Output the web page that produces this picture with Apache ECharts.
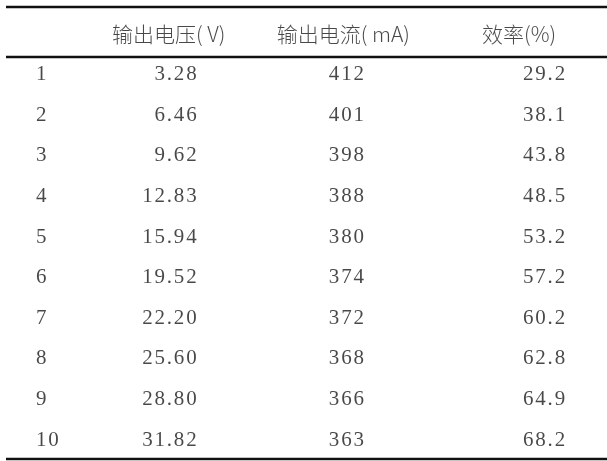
<!DOCTYPE html>
<html>
<head>
<meta charset="utf-8">
<script src="https://cdn.jsdelivr.net/npm/echarts@6/dist/echarts.min.js"></script>
<style>html,body{margin:0;background:#fff}#main{width:607px;height:461px}</style>
</head>
<body>
<div id="main"></div>
<script>
// 表格数据
const columns = ['序号', '输出电压(V)', '输出电流(mA)', '效率(%)']
const rowIds = ['1', '2', '3', '4', '5', '6', '7', '8', '9', '10']
const voltage = ['3.28', '6.46', '9.62', '12.83', '15.94', '19.52', '22.20', '25.60', '28.80', '31.82']
const current = ['412', '401', '398', '388', '380', '374', '372', '368', '366', '363']
const efficiency = ['29.2', '38.1', '43.8', '48.5', '53.2', '57.2', '60.2', '62.8', '64.9', '68.2']
const headers = ['', '输出电压( V)', '输出电流( mA)', '效率(%)']

const rowCats = ['h'].concat(rowIds)
const font = '"Liberation Serif", "Noto Sans CJK SC", serif'

let chart = echarts.init(document.getElementById('main'))

// 每一列一个散点序列, 只显示标签
const colSeries = (vals, col, align, offsetX) => ({
  type: 'scatter',
  symbolSize: 0,
  data: vals.map((v, i) => [col, i + 1, v]),
  label: {
    show: true,
    position: 'inside',
    formatter: p => p.value[2].split('').join('\u200a'),
    align: align,
    offset: [offsetX, 0],
    fontFamily: font,
    fontSize: 21,
    color: '#1a1a1a'
  }
})

let headerSeries = {
  type: 'scatter',
  symbolSize: 0,
  data: headers.map((v, i) => [i, 0, v]).filter(d => d[2]),
  label: {
    show: true,
    position: 'inside',
    formatter: p => p.value[2],
    fontFamily: '"Noto Sans CJK SC", sans-serif',
    fontSize: 21,
    fontWeight: 300,
    color: '#1a1a1a'
  },
  labelLayout: p => ({ dx: [0, -59, -36, -12][p.dataIndex + 1] })
}

let option = {
  animation: false,
  grid: { left: 0, right: 0, top: 13.7, bottom: 0.7 },
  xAxis: { type: 'category', data: columns, show: false },
  yAxis: { type: 'category', data: rowCats, inverse: true, show: false },
  series: [
    headerSeries,
    colSeries(rowIds, 0, 'left', -40),
    colSeries(voltage, 1, 'right', -31),
    colSeries(current, 2, 'center', -33),
    colSeries(efficiency, 3, 'right', 34)
  ],
  graphic: [
    { type: 'line', shape: { x1: 6, y1: 7, x2: 607, y2: 7 }, style: { stroke: '#111', lineWidth: 2.5 } },
    { type: 'line', shape: { x1: 6, y1: 57, x2: 607, y2: 57 }, style: { stroke: '#111', lineWidth: 2.5 } },
    { type: 'line', shape: { x1: 6, y1: 459, x2: 607, y2: 459 }, style: { stroke: '#111', lineWidth: 2.5 } }
  ]
}
chart.setOption(option)
</script>
</body>
</html>
